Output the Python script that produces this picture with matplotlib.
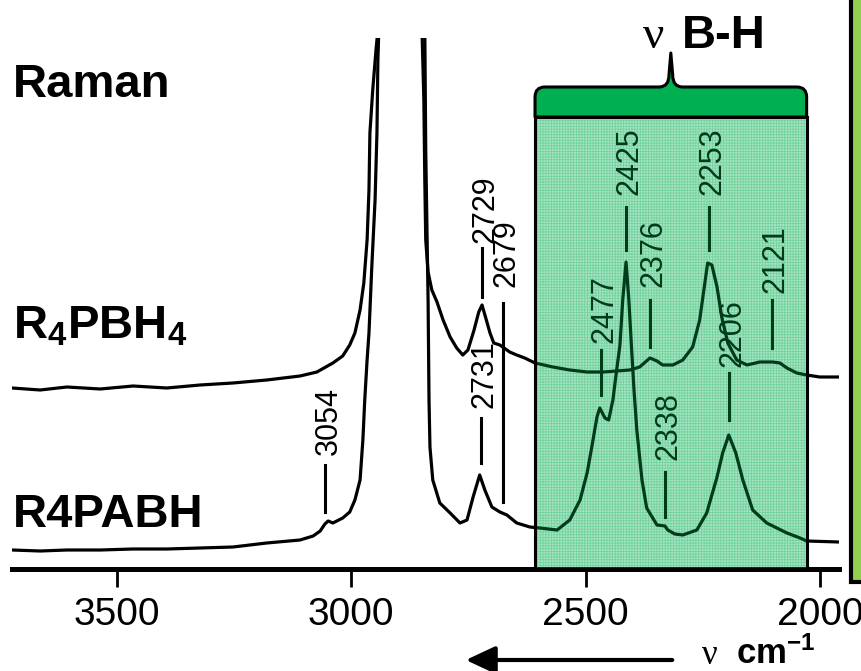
"""
    Raman spectra, R4PBH4 / R4PABH, B-H stretching region
"""
import matplotlib.pyplot as plt
from matplotlib.patches import Rectangle, PathPatch
from matplotlib.path import Path

plt.rcParams['font.family'] = ['Liberation Sans', 'DejaVu Sans']
plt.rcParams['mathtext.fontset'] = 'custom'
plt.rcParams['mathtext.rm'] = 'Liberation Sans'
plt.rcParams['mathtext.bf'] = 'Liberation Sans:bold'
plt.rcParams['hatch.linewidth'] = 0.6

# upper trace: R4PBH4 (wavenumber in cm-1, intensity in a.u.)
pbh4_wn = [3723, 3663, 3606, 3535, 3465, 3393, 3322, 3252, 3180, 3109,
           3073, 3039, 3018, 3003, 2992, 2981, 2973, 2966, 2962, 2960,
           2954, 2947, 2943, 2894, 2849, 2845, 2843, 2841, 2836, 2828,
           2817, 2804, 2789, 2775, 2762, 2751, 2738, 2728, 2721, 2713,
           2704, 2696, 2683, 2674, 2662, 2647, 2630, 2608, 2570, 2534,
           2497, 2463, 2434, 2406, 2385, 2363, 2348, 2336, 2314, 2293,
           2272, 2257, 2246, 2240, 2231, 2220, 2210, 2197, 2178, 2156,
           2129, 2101, 2086, 2071, 2050, 2029, 2001, 1960]
pbh4_int = [181, 179, 182, 180, 183, 181, 184, 186, 189, 193,
            197, 206, 213, 224, 236, 259, 286, 329, 379, 436,
            479, 519, 539, 869, 539, 469, 389, 329, 297, 279,
            267, 249, 232, 221, 214, 219, 239, 257, 264, 251,
            236, 226, 224, 221, 217, 214, 211, 206, 202, 199,
            197, 197, 198, 199, 202, 211, 208, 204, 204, 209,
            222, 249, 286, 306, 304, 282, 252, 226, 209, 204,
            207, 207, 206, 201, 196, 194, 192, 192]

# lower trace: R4PABH
pabh_wn = [3723, 3663, 3606, 3535, 3465, 3393, 3322, 3252, 3180, 3109,
           3081, 3066, 3056, 3049, 3039, 3018, 3003, 2992, 2981, 2975,
           2971, 2966, 2962, 2956, 2949, 2945, 2943, 2941, 2892, 2843,
           2841, 2836, 2834, 2832, 2826, 2811, 2789, 2768, 2753, 2740,
           2726, 2715, 2700, 2683, 2668, 2647, 2619, 2598, 2561, 2534,
           2512, 2497, 2487, 2476, 2470, 2459, 2451, 2442, 2434, 2427,
           2421, 2414, 2408, 2402, 2397, 2391, 2380, 2370, 2348, 2331,
           2325, 2310, 2293, 2263, 2242, 2220, 2208, 2195, 2180, 2165,
           2144, 2114, 2071, 2043, 2029, 1960]
pabh_int = [19, 18, 19, 19, 20, 20, 21, 22, 26, 29,
            33, 38, 45, 48, 46, 51, 57, 69, 89, 129,
            169, 209, 236, 302, 369, 436, 509, 539, 869, 539,
            419, 269, 169, 122, 89, 66, 56, 46, 49, 72,
            94, 79, 62, 57, 54, 46, 42, 41, 39, 49,
            69, 96, 122, 152, 161, 151, 149, 169, 199, 224,
            269, 307, 269, 219, 179, 139, 89, 61, 44, 43,
            39, 35, 34, 39, 56, 92, 116, 134, 116, 89,
            59, 46, 36, 31, 28, 27]

# peak assignments
peak_labels = ['3054', '2731', '2679', '2729', '2477', '2425',
               '2376', '2338', '2253', '2206', '2121']
peak_pos = [3056, 2723, 2676, 2721, 2468, 2414, 2363, 2331, 2237, 2195, 2103]
peak_line_lo = [57, 106, 67, 272, 174, 319, 222, 52, 319, 149, 221]
peak_line_hi = [104, 151, 266, 321, 219, 362, 269, 97, 362, 196, 269]
peak_text_y = [114, 161, 282, 326, 226, 374, 282, 109, 374, 202, 276]

x_ticks = [3500, 3000, 2500, 2000]
bh_range = (2608, 2029)   # nu B-H region, cm-1

W, H = 862, 671
fig = plt.figure(figsize=(W / 100, H / 100), dpi=100)
ax = fig.add_axes([12 / W, 1 - 569 / H, 827 / W, 531 / H])

# spectra
ax.plot(pbh4_wn, pbh4_int, color='black', linewidth=2.3, zorder=2)
ax.plot(pabh_wn, pabh_int, color='black', linewidth=2.3, zorder=2)

# peak marks
for lab, pos, lo, hi, ty in zip(peak_labels, peak_pos, peak_line_lo,
                                peak_line_hi, peak_text_y):
    ax.plot([pos, pos], [lo, hi], color='black', linewidth=2.2, zorder=3)
    ax.text(pos - 8, ty, lab, rotation=90, ha='center', va='bottom',
            fontsize=22, color='black', zorder=3)

# green B-H box: mesh texture under the traces, tint over them
x0, x1 = bh_range
box_top = 452
ax.add_patch(Rectangle((x0, 0), x1 - x0, box_top, facecolor='none',
                       hatch='++++++', edgecolor='#4fc77f', linewidth=0,
                       alpha=0.45, zorder=1))
ax.add_patch(Rectangle((x0, 0), x1 - x0, box_top, facecolor='#00b050',
                       alpha=0.34, edgecolor='none', zorder=5))
ax.add_patch(Rectangle((x0, 0), x1 - x0, box_top, facecolor='none',
                       edgecolor='black', linewidth=2.2, zorder=6))

# bracket cap with brace tip
cap_h, r_x, r_y = 30, 21, 10
xm = (x0 + x1) / 2
verts = [(x0, box_top), (x0, box_top + cap_h - r_y),
         (x0, box_top + cap_h), (x0 - r_x, box_top + cap_h),
         (xm + 25, box_top + cap_h),
         (xm + 4, box_top + cap_h), (xm + 4, box_top + cap_h + 12),
         (xm, box_top + cap_h + 34),
         (xm - 4, box_top + cap_h + 12),
         (xm - 4, box_top + cap_h), (xm - 25, box_top + cap_h),
         (x1 + r_x, box_top + cap_h),
         (x1, box_top + cap_h), (x1, box_top + cap_h - r_y),
         (x1, box_top), (x0, box_top)]
codes = [Path.MOVETO, Path.LINETO,
         Path.CURVE3, Path.CURVE3,
         Path.LINETO,
         Path.CURVE3, Path.CURVE3,
         Path.LINETO,
         Path.LINETO,
         Path.CURVE3, Path.CURVE3,
         Path.LINETO,
         Path.CURVE3, Path.CURVE3,
         Path.LINETO, Path.CLOSEPOLY]
ax.add_patch(PathPatch(Path(verts, codes), facecolor='#00b050',
                       edgecolor='black', linewidth=2.2, zorder=7,
                       joinstyle='round'))

# axes styling
ax.set_xlim(3723, 1960)
ax.set_ylim(0, 531)
ax.set_xticks(x_ticks)
ax.set_xticklabels([str(t) for t in x_ticks])
ax.set_yticks([])
for s in ['left', 'right', 'top']:
    ax.spines[s].set_visible(False)
ax.spines['bottom'].set_linewidth(3.6)
ax.tick_params(axis='x', direction='out', length=13, width=2, pad=7,
               labelsize=28)
ax.patch.set_visible(False)

# labels
fig.text(13 / W, 1 - 97 / H, 'Raman', fontsize=34, fontweight='bold',
         va='baseline')
fig.text(13 / W, 1 - 338 / H, r'$\mathbf{R_4PBH_4}$', fontsize=34,
         va='baseline')
fig.text(13 / W, 1 - 527 / H, 'R4PABH', fontsize=34, fontweight='bold',
         va='baseline')
fig.text(643 / W, 1 - 48 / H, 'ν', fontsize=34, family='Liberation Serif',
         va='baseline')
fig.text(682 / W, 1 - 48 / H, 'B-H', fontsize=34, fontweight='bold',
         va='baseline')

# x axis label with arrow
ax.annotate('', xy=(463 / W, 1 - 660 / H), xytext=(675 / W, 1 - 660 / H),
            xycoords='figure fraction', textcoords='figure fraction',
            arrowprops=dict(arrowstyle='-|>,head_length=0.9,head_width=0.42',
                            mutation_scale=20, lw=3, color='black'))
fig.text(702 / W, 1 - 664 / H, 'ν', fontsize=25, family='Liberation Serif',
         va='baseline')
fig.text(736 / W, 1 - 664 / H, r'$\mathbf{cm^{-1}}$', fontsize=25,
         va='baseline')

# green side panel
fig.patches.append(Rectangle((851 / W, 1 - 582 / H), 0.2, 0.2 + 582 / H,
                             transform=fig.transFigure, facecolor='#92d050',
                             edgecolor='black', linewidth=3, zorder=0))

plt.savefig('out.png', dpi=100)
